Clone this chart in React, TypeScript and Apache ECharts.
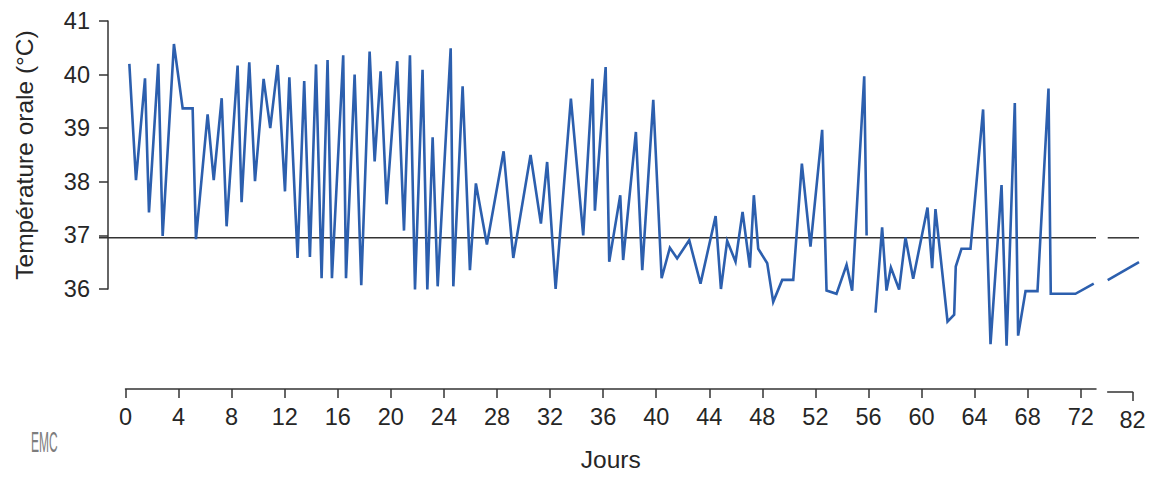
import React, { useEffect, useRef } from "react";
import * as echarts from "echarts";

// Day of each oral temperature reading (left part of the broken axis)
const days = [
  0.29, 0.79, 1.47, 1.77, 2.47, 2.8, 3.65, 4.31, 5.06, 5.31,
  6.19, 6.65, 7.25, 7.62, 8.45, 8.75, 9.33, 9.76, 10.41, 10.91,
  11.47, 12.02, 12.35, 12.97, 13.47, 13.9, 14.36, 14.78, 15.23, 15.56,
  16.41, 16.62, 17.27, 17.77, 18.4, 18.78, 19.23, 19.68, 20.48, 20.99,
  21.44, 21.82, 22.39, 22.75, 23.15, 23.53, 24.51, 24.71, 25.41, 25.96,
  26.41, 27.24, 28.5, 29.23, 30.53, 31.31, 31.78, 32.42, 33.57, 34.5,
  35.2, 35.38, 36.19, 36.46, 37.29, 37.51, 38.47, 38.95, 39.78, 40.41,
  41.03, 41.58, 42.49, 43.34, 44.48, 44.88, 45.35, 45.98, 46.51, 47.06,
  47.36, 47.69, 48.37, 48.82, 49.5, 50.33, 50.98, 51.63, 52.51, 52.84,
  53.59, 54.35, 54.77, 55.68, 55.86,
  56.2,
  56.53, 57.03, 57.36, 57.69, 58.31, 58.79, 59.37, 60.45, 60.8, 61.05,
  61.96, 62.46, 62.58, 63.01, 63.69, 64.64, 65.2, 66.03, 66.41, 67.03,
  67.28, 67.84, 68.74, 69.57, 69.74, 71.6, 72.98,
];

// Oral temperature (°C); null = missing reading (gap in the line)
const temps: (number | null)[] = [
  40.2, 38.03, 39.93, 37.43, 40.2, 36.99, 40.57, 39.37, 39.37, 36.93,
  39.26, 38.03, 39.56, 37.17, 40.17, 37.62, 40.23, 38.01, 39.92, 39.0,
  40.18, 37.82, 39.95, 36.58, 39.88, 36.6, 40.19, 36.2, 40.27, 36.2,
  40.36, 36.2, 40.0, 36.07, 40.43, 38.38, 40.06, 37.58, 40.25, 37.09,
  40.36, 35.99, 40.09, 35.99, 38.83, 36.05, 40.49, 36.05, 39.78, 36.35,
  37.97, 36.83, 38.57, 36.58, 38.5, 37.22, 38.37, 36.0, 39.55, 37.0,
  39.92, 37.46, 40.14, 36.51, 37.75, 36.54, 38.93, 36.35, 39.53, 36.2,
  36.77, 36.57, 36.91, 36.1, 37.36, 36.0, 36.9, 36.51, 37.44, 36.4,
  37.75, 36.75, 36.48, 35.76, 36.17, 36.17, 38.34, 36.79, 38.97, 35.97,
  35.91, 36.45, 35.97, 39.97, 37.0,
  null,
  35.56, 37.15, 35.97, 36.4, 35.99, 36.96, 36.19, 37.52, 36.39, 37.49,
  35.39, 35.52, 36.42, 36.75, 36.75, 39.35, 34.97, 37.94, 34.94, 39.47,
  35.13, 35.96, 35.96, 39.74, 35.91, 35.91, 36.1,
];

// Right part of the broken axis
const tailDays = [80.12, 82.48];
const tailTemps = [36.22, 36.55];

// Tick labels
const xTicks = [0, 4, 8, 12, 16, 20, 24, 28, 32, 36, 40, 44, 48, 52, 56, 60, 64, 68, 72];
const xTicksRight = [82];
const yMin = 36;
const yMax = 41;

// Reference temperature line (37 °C)
const refTemp = 37;
const refLeftDays = [-2, 73.15];
const refRightDays = [80.12, 82.48];

const FONT = "'Liberation Sans', Arial, Helvetica, sans-serif";
const TXT = "#262626";
const AX = "#333333";
const BLUE = "#2c5fae";

export default function App() {
  const ref = useRef<HTMLDivElement>(null);

  useEffect(() => {
    document.body.style.margin = "0";
    const chart = echarts.init(ref.current!, null, { renderer: "svg" });

    const mainData = days.map((d, i) => [d, temps[i] === null ? "-" : temps[i]]);
    const tailData = tailDays.map((d, i) => [d, tailTemps[i]]);
    const refLeft = refLeftDays.map((d) => [d, refTemp]);
    const refRight = refRightDays.map((d) => [d, refTemp]);

    const labelStyle = { fontSize: 23.5, color: TXT, fontFamily: FONT };
    const hiddenY = (gridIndex: number) => ({
      gridIndex,
      type: "value",
      min: yMin,
      max: yMax,
      show: false,
    });

    chart.setOption({
      animation: false,
      backgroundColor: "#ffffff",
      grid: [
        // 0: main plot with visible axes
        { left: 125.5, top: 21, width: 970.5, height: 271 },
        // 1: right axis segment (after the break)
        { left: 1107.7, top: 21, width: 24.9, height: 271 },
        // 2: reference line, left part
        { left: 99, top: 21, width: 997, height: 271 },
        // 3: data + reference line after the break
        { left: 1107.7, top: 21, width: 31.3, height: 271 },
      ],
      xAxis: [
        {
          gridIndex: 0,
          type: "value",
          min: 0,
          max: 73.15,
          position: "bottom",
          offset: 100,
          splitLine: { show: false },
          axisLine: { show: true, onZero: false, lineStyle: { color: AX, width: 1.5 } },
          axisTick: { show: true, length: 9, customValues: xTicks, lineStyle: { color: AX, width: 1.5 } },
          axisLabel: { customValues: xTicks, margin: 16, ...labelStyle },
          name: "Jours",
          nameLocation: "middle",
          nameGap: 58,
          nameTextStyle: { fontSize: 24.5, color: TXT, fontFamily: FONT },
        },
        {
          gridIndex: 1,
          type: "value",
          min: 80.12,
          max: 82,
          position: "bottom",
          offset: 100,
          splitLine: { show: false },
          axisLine: { show: true, onZero: false, lineStyle: { color: AX, width: 1.5 } },
          axisTick: { show: true, length: 9, customValues: xTicksRight, lineStyle: { color: AX, width: 1.5 } },
          axisLabel: { customValues: xTicksRight, margin: 16, ...labelStyle },
        },
        { gridIndex: 2, type: "value", min: -2, max: 73.15, show: false },
        { gridIndex: 3, type: "value", min: 80.12, max: 82.48, show: false },
      ],
      yAxis: [
        {
          gridIndex: 0,
          type: "value",
          min: yMin,
          max: yMax,
          interval: 1,
          offset: 17.5,
          splitLine: { show: false },
          axisLine: { show: true, onZero: false, lineStyle: { color: AX, width: 1.5 } },
          axisTick: { show: true, length: 9, lineStyle: { color: AX, width: 1.5 } },
          axisLabel: { margin: 18, ...labelStyle },
          name: "Température orale (°C)",
          nameLocation: "middle",
          nameGap: 71,
          nameTextStyle: { fontSize: 24.5, color: TXT, fontFamily: FONT },
        },
        hiddenY(1),
        hiddenY(2),
        hiddenY(3),
      ],
      series: [
        {
          type: "line",
          xAxisIndex: 2,
          yAxisIndex: 2,
          data: refLeft,
          symbol: "none",
          clip: false,
          silent: true,
          z: 1,
          lineStyle: { color: AX, width: 1.5 },
        },
        {
          type: "line",
          xAxisIndex: 3,
          yAxisIndex: 3,
          data: refRight,
          symbol: "none",
          clip: false,
          silent: true,
          z: 1,
          lineStyle: { color: AX, width: 1.5 },
        },
        {
          type: "line",
          xAxisIndex: 0,
          yAxisIndex: 0,
          data: mainData,
          symbol: "none",
          showSymbol: false,
          connectNulls: false,
          clip: false,
          z: 3,
          lineStyle: { color: BLUE, width: 2.6, join: "miter" },
        },
        {
          type: "line",
          xAxisIndex: 3,
          yAxisIndex: 3,
          data: tailData,
          symbol: "none",
          clip: false,
          z: 3,
          lineStyle: { color: BLUE, width: 2.6 },
        },
      ],
      graphic: [
        {
          type: "text",
          left: 31,
          top: 426,
          scaleX: 0.4,
          style: {
            text: "EMC",
            fontSize: 30,
            fontFamily: FONT,
            fill: "#7d7d7d",
          },
        },
      ],
    });

    return () => chart.dispose();
  }, []);

  return <div ref={ref} style={{ width: 1152, height: 477 }} />;
}
